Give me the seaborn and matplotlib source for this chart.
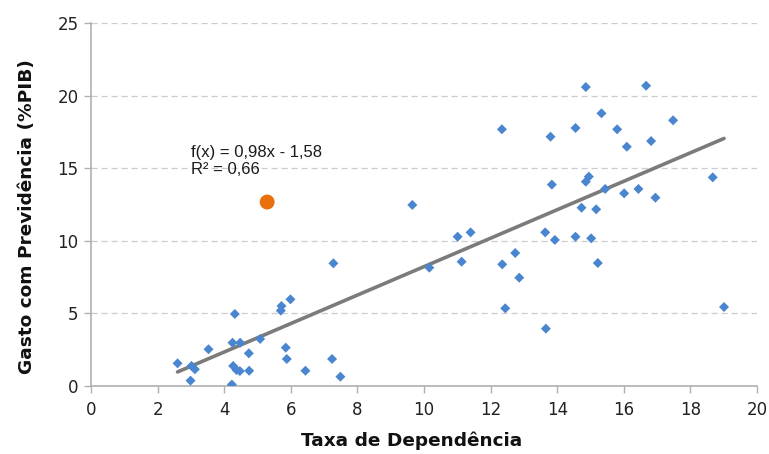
import numpy as np
import pandas as pd
import matplotlib
matplotlib.use("Agg")
import matplotlib.pyplot as plt
import seaborn as sns

# Taxa de dependência (x) vs. gasto com previdência em % do PIB (y)
taxa_dependencia = [2.60, 3.02, 3.12, 2.99, 3.53, 4.32, 4.25, 4.48, 4.74, 5.08,
                    4.27, 4.37, 4.47, 4.75, 4.23, 5.72, 5.70, 5.99, 5.85, 5.88,
                    6.44, 7.28, 7.24, 7.49, 9.65, 10.16, 11.01, 11.40, 11.13, 12.34,
                    12.35, 12.44, 12.74, 12.86, 13.80, 13.84, 13.64, 13.93, 13.66, 14.86,
                    14.55, 14.95, 14.86, 14.73, 14.55, 15.02, 15.17, 15.22, 15.33, 15.44,
                    15.80, 16.09, 16.01, 16.44, 16.67, 16.82, 16.95, 17.48, 18.67, 19.01]
gasto_previdencia = [1.56, 1.38, 1.15, 0.37, 2.53, 4.96, 2.98, 2.98, 2.25, 3.24,
                     1.38, 1.10, 1.03, 1.05, 0.10, 5.51, 5.19, 5.97, 2.64, 1.86,
                     1.05, 8.45, 1.86, 0.64, 12.47, 8.15, 10.28, 10.58, 8.56, 17.68,
                     8.38, 5.35, 9.16, 7.46, 17.17, 13.87, 10.58, 10.06, 3.95, 20.59,
                     17.77, 14.42, 14.07, 12.28, 10.28, 10.17, 12.17, 8.47, 18.78, 13.57,
                     17.68, 16.48, 13.27, 13.57, 20.68, 16.87, 12.97, 18.30, 14.37, 5.44]

# Brasil em destaque
destaque_x = [5.29]
destaque_y = [12.67]

# Reta de tendência linear
coef_angular = 0.98
coef_linear = -1.58
r2 = 0.66

x_ticks = [0, 2, 4, 6, 8, 10, 12, 14, 16, 18, 20]
y_ticks = [0, 5, 10, 15, 20, 25]

df = pd.DataFrame({"x": taxa_dependencia, "y": gasto_previdencia})
dest = pd.DataFrame({"x": destaque_x, "y": destaque_y})
x_line = np.array([min(taxa_dependencia), max(taxa_dependencia)])
trend = pd.DataFrame({"x": x_line, "y": coef_angular * x_line + coef_linear})

sns.set_theme(style="white")
plt.rcParams["font.family"] = ["DejaVu Sans"]

fig = plt.figure(figsize=(7.69, 4.54), dpi=100)
ax = fig.add_axes([0.1183, 0.1498, 0.8661, 0.7995])

ax.set_axisbelow(True)
ax.yaxis.grid(True, color="#cccccc", linestyle=(0, (5, 3)), linewidth=0.9)
ax.xaxis.grid(False)

sns.lineplot(data=trend, x="x", y="y", ax=ax, color="#7b7b7b", linewidth=2.6, zorder=2)
sns.scatterplot(data=df, x="x", y="y", ax=ax, marker="D", s=26, color="#4a86cf",
                edgecolor="none", linewidth=0, zorder=3)
sns.scatterplot(data=dest, x="x", y="y", ax=ax, marker="o", s=115, color="#e8700d",
                edgecolor="none", linewidth=0, zorder=4)

eq_text = f"f(x) = {coef_angular:.2f}x - {abs(coef_linear):.2f}\nR² = {r2:.2f}".replace(".", ",")
ax.text(3.0, 16.6, eq_text, fontsize=12, family="Liberation Sans", color="#1a1a1a",
        va="top", ha="left", linespacing=1.2)

ax.set_xlim(0, 20)
ax.set_ylim(0, 25)
ax.set_xticks(x_ticks)
ax.set_yticks(y_ticks)
ax.tick_params(axis="both", which="major", direction="out", length=5, width=1,
               color="#b0b0b0", labelsize=12, labelcolor="#222222", pad=4,
               bottom=True, left=True)
ax.tick_params(axis="x", pad=6)

for side in ["top", "right"]:
    ax.spines[side].set_visible(False)
for side in ["left", "bottom"]:
    ax.spines[side].set_color("#b0b0b0")
    ax.spines[side].set_linewidth(1.2)

ax.set_xlabel("Taxa de Dependência", fontsize=13.3, fontweight="bold", color="#111111")
ax.set_ylabel("Gasto com Previdência (%PIB)", fontsize=13.3, fontweight="bold", color="#111111")
ax.xaxis.set_label_coords(0.482, -0.125)
ax.yaxis.set_label_coords(-0.083, 0.466)

fig.savefig("out.png", dpi=100)
